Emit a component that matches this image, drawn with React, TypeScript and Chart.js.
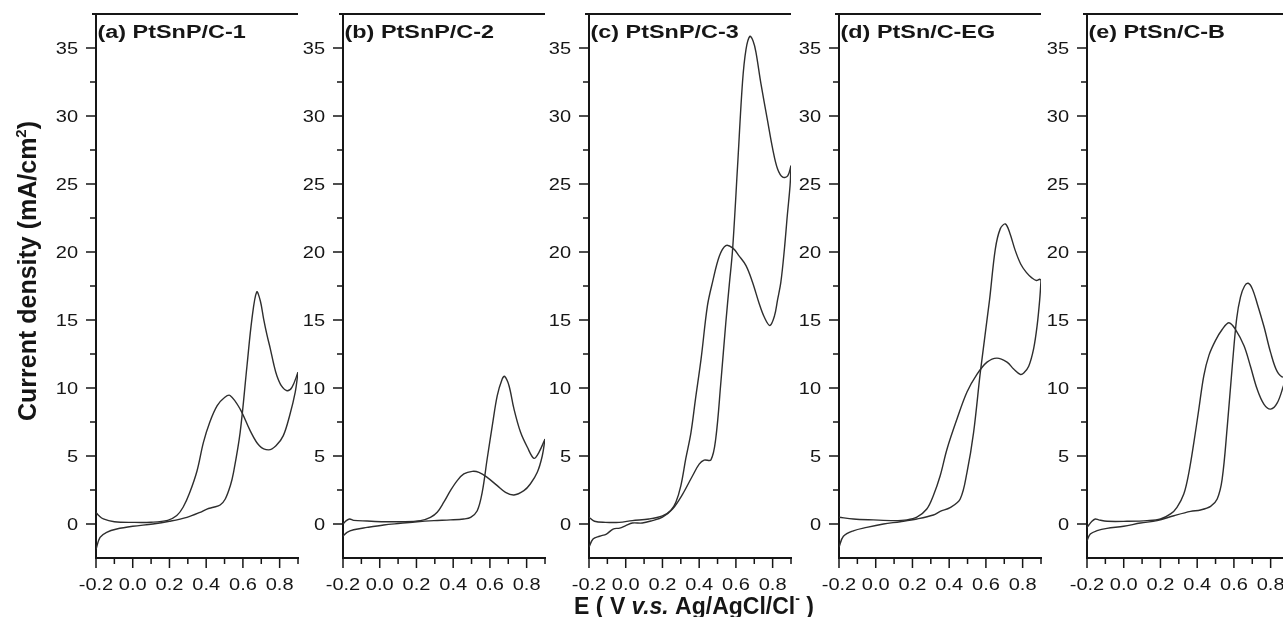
import React, { useEffect, useRef } from 'react';
import { Chart, registerables } from 'chart.js';

Chart.register(...registerables);

// ---------- axes ----------
const xRange = [-0.2, 0.9];
const yRange = [-2.5, 37.5];
const xTickValues = [-0.2, -0.1, 0.0, 0.1, 0.2, 0.3, 0.4, 0.5, 0.6, 0.7, 0.8, 0.9];
const xTickLabels = ['-0.2', '', '0.0', '', '0.2', '', '0.4', '', '0.6', '', '0.8', ''];
const yTickValues = [0, 2.5, 5, 7.5, 10, 12.5, 15, 17.5, 20, 22.5, 25, 27.5, 30, 32.5, 35];
const yTickLabels = ['0', '', '5', '', '10', '', '15', '', '20', '', '25', '', '30', '', '35'];

const panelTitles = ['(a) PtSnP/C-1', '(b) PtSnP/C-2', '(c) PtSnP/C-3', '(d) PtSn/C-EG', '(e) PtSn/C-B'];

// ---------- data: potential E (V) and current density I (mA/cm2) ----------
// (a) PtSnP/C-1
const aForwardE = [-0.2, -0.178, -0.142, -0.087, 0.0, 0.11, 0.2, 0.295, 0.367, 0.404, 0.44, 0.476, 0.504, 0.531, 0.549, 0.585, 0.622, 0.649, 0.675, 0.695, 0.713, 0.731, 0.749, 0.767, 0.785, 0.81, 0.84, 0.867, 0.9];
const aForwardI = [-1.85, -0.98, -0.61, -0.37, -0.17, 0.0, 0.2, 0.49, 0.86, 1.1, 1.23, 1.4, 1.84, 2.8, 3.8, 6.74, 11.6, 15.07, 17.06, 16.4, 15.07, 13.9, 12.9, 11.8, 10.9, 10.15, 9.8, 10.05, 11.15];
const aReverseE = [0.9, 0.885, 0.855, 0.82, 0.78, 0.74, 0.69, 0.64, 0.585, 0.53, 0.5, 0.46, 0.42, 0.385, 0.35, 0.31, 0.275, 0.24, 0.19, 0.1, 0.0, -0.1, -0.16, -0.185, -0.2];
const aReverseI = [11.15, 9.7, 8.0, 6.5, 5.75, 5.45, 5.75, 6.85, 8.45, 9.45, 9.3, 8.7, 7.5, 6.0, 3.9, 2.3, 1.25, 0.62, 0.27, 0.13, 0.12, 0.17, 0.37, 0.62, 0.85];

// (b) PtSnP/C-2
const bForwardE = [-0.2, -0.178, -0.142, -0.069, 0.022, 0.113, 0.204, 0.295, 0.385, 0.458, 0.495, 0.531, 0.558, 0.585, 0.613, 0.64, 0.667, 0.68, 0.704, 0.731, 0.767, 0.804, 0.84, 0.867, 0.9];
const bForwardI = [-0.9, -0.61, -0.42, -0.25, -0.07, 0.05, 0.17, 0.25, 0.3, 0.37, 0.49, 0.98, 2.33, 4.78, 7.23, 9.44, 10.66, 10.86, 10.17, 8.46, 6.74, 5.64, 4.83, 5.27, 6.25];
const bReverseE = [0.9, 0.885, 0.858, 0.82, 0.785, 0.731, 0.685, 0.64, 0.585, 0.54, 0.504, 0.458, 0.422, 0.385, 0.349, 0.313, 0.276, 0.222, 0.113, 0.022, -0.069, -0.142, -0.164, -0.182, -0.2];
const bReverseI = [6.25, 5.0, 3.8, 2.94, 2.45, 2.13, 2.33, 2.82, 3.43, 3.8, 3.87, 3.68, 3.19, 2.45, 1.6, 0.86, 0.49, 0.25, 0.17, 0.17, 0.22, 0.27, 0.37, 0.25, 0.0];

// (c) PtSnP/C-3
const cForwardE = [-0.2, -0.178, -0.142, -0.105, -0.069, -0.033, 0.0, 0.036, 0.09, 0.145, 0.2, 0.255, 0.31, 0.364, 0.4, 0.427, 0.464, 0.49, 0.518, 0.545, 0.564, 0.582, 0.609, 0.636, 0.655, 0.676, 0.694, 0.709, 0.736, 0.773, 0.8, 0.827, 0.855, 0.882, 0.9];
const cForwardI = [-1.7, -1.1, -0.9, -0.74, -0.37, -0.3, -0.12, 0.07, 0.07, 0.25, 0.5, 1.1, 2.2, 3.55, 4.4, 4.7, 4.72, 6.25, 10.4, 14.8, 17.6, 20.2, 26.3, 32.5, 34.9, 35.86, 35.5, 34.7, 32.4, 29.6, 27.6, 26.1, 25.5, 25.6, 26.35];
const cReverseE = [0.9, 0.895, 0.88, 0.864, 0.845, 0.827, 0.81, 0.785, 0.755, 0.727, 0.69, 0.655, 0.618, 0.582, 0.545, 0.51, 0.473, 0.445, 0.41, 0.38, 0.355, 0.327, 0.3, 0.273, 0.245, 0.2, 0.127, 0.036, -0.036, -0.11, -0.17, -0.2];
const cReverseI = [26.35, 24.9, 22.7, 20.2, 17.8, 16.5, 15.3, 14.6, 15.2, 16.2, 17.8, 19.0, 19.7, 20.3, 20.47, 19.7, 17.8, 16.05, 12.1, 9.2, 6.7, 4.8, 2.8, 1.6, 1.0, 0.6, 0.37, 0.25, 0.12, 0.12, 0.2, 0.5];

// (d) PtSn/C-EG
const dForwardE = [-0.2, -0.176, -0.122, -0.049, 0.042, 0.133, 0.224, 0.314, 0.351, 0.405, 0.46, 0.497, 0.533, 0.57, 0.62, 0.651, 0.678, 0.706, 0.73, 0.76, 0.79, 0.82, 0.85, 0.875, 0.893, 0.9];
const dForwardI = [-1.7, -0.9, -0.5, -0.25, 0.0, 0.17, 0.37, 0.66, 0.93, 1.2, 1.84, 3.8, 6.74, 11.2, 16.5, 20.2, 21.7, 22.06, 21.4, 20.1, 19.1, 18.5, 18.1, 17.9, 18.0, 17.9];
const dReverseE = [0.9, 0.893, 0.879, 0.86, 0.833, 0.806, 0.787, 0.751, 0.715, 0.66, 0.606, 0.551, 0.497, 0.442, 0.388, 0.351, 0.314, 0.278, 0.224, 0.17, 0.1, -0.013, -0.122, -0.2];
const dReverseI = [17.9, 16.5, 14.6, 12.9, 11.6, 11.1, 11.0, 11.4, 11.9, 12.2, 11.9, 11.0, 9.7, 7.7, 5.5, 3.55, 2.1, 1.1, 0.5, 0.3, 0.25, 0.3, 0.37, 0.5];

// (e) PtSn/C-B
const eForwardE = [-0.2, -0.182, -0.145, -0.091, 0.0, 0.091, 0.182, 0.273, 0.364, 0.418, 0.473, 0.509, 0.536, 0.564, 0.591, 0.615, 0.636, 0.658, 0.678, 0.7, 0.727, 0.764, 0.8, 0.836, 0.871, 0.9];
const eForwardI = [-1.23, -0.74, -0.49, -0.32, -0.17, 0.07, 0.25, 0.61, 0.93, 1.03, 1.3, 1.84, 3.3, 7.2, 11.6, 15.1, 16.7, 17.5, 17.7, 17.3, 16.2, 14.5, 12.6, 11.2, 10.8, 11.3];
const eReverseE = [0.9, 0.871, 0.836, 0.8, 0.764, 0.727, 0.69, 0.655, 0.609, 0.573, 0.536, 0.5, 0.464, 0.436, 0.409, 0.382, 0.355, 0.327, 0.29, 0.255, 0.2, 0.127, 0.018, -0.09, -0.136, -0.155, -0.173, -0.2];
const eReverseI = [11.3, 10.2, 8.9, 8.45, 8.8, 9.9, 11.6, 13.1, 14.3, 14.8, 14.3, 13.5, 12.4, 10.9, 8.45, 6.0, 3.8, 2.2, 1.23, 0.74, 0.37, 0.25, 0.2, 0.2, 0.3, 0.37, 0.2, -0.25];

const panelSeries = [
  { fE: aForwardE, fI: aForwardI, rE: aReverseE, rI: aReverseI },
  { fE: bForwardE, fI: bForwardI, rE: bReverseE, rI: bReverseI },
  { fE: cForwardE, fI: cForwardI, rE: cReverseE, rI: cReverseI },
  { fE: dForwardE, fI: dForwardI, rE: dReverseE, rI: dReverseI },
  { fE: eForwardE, fI: eForwardI, rE: eReverseE, rI: eReverseI },
];

// ---------- layout / style ----------
const axisLefts = [96, 343, 589, 839, 1087];
const PLOT_W = 202;
const Y_AXIS_W = 60;
const RIGHT_PAD = 40;
const FONT = '"Liberation Sans", Arial, Helvetica, sans-serif';
const INK = '#161616';
const LINE = '#2e2e2e';

type Part = { text: string; font: string; dy?: number };

function drawRich(ctx: CanvasRenderingContext2D, parts: Part[], cx: number, baseline: number) {
  let total = 0;
  for (const p of parts) {
    ctx.font = p.font;
    total += ctx.measureText(p.text).width;
  }
  let x = cx - total / 2;
  ctx.textAlign = 'left';
  ctx.textBaseline = 'alphabetic';
  for (const p of parts) {
    ctx.font = p.font;
    ctx.fillText(p.text, x, baseline + (p.dy || 0));
    x += ctx.measureText(p.text).width;
  }
}

const decorPlugin = {
  id: 'panelDecor',
  afterDraw(chart: any, _args: any, opts: any) {
    const ctx: CanvasRenderingContext2D = chart.ctx;
    const ca = chart.chartArea;
    const xs = chart.scales.x;
    const ys = chart.scales.y;
    ctx.save();
    // top frame line
    ctx.strokeStyle = INK;
    ctx.lineWidth = 2;
    ctx.beginPath();
    ctx.moveTo(ca.left - 4, ca.top);
    ctx.lineTo(ca.right, ca.top);
    ctx.stroke();
    // tick marks (major / minor)
    ctx.lineWidth = 1.5;
    ctx.beginPath();
    xTickValues.forEach((v, i) => {
      const px = xs.getPixelForValue(v);
      const len = xTickLabels[i] ? 10 : 6;
      ctx.moveTo(px, ca.bottom);
      ctx.lineTo(px, ca.bottom + len);
    });
    yTickValues.forEach((v, i) => {
      const py = ys.getPixelForValue(v);
      const len = yTickLabels[i] ? 10 : 6;
      ctx.moveTo(ca.left - len, py);
      ctx.lineTo(ca.left, py);
    });
    ctx.stroke();
    // tick labels
    ctx.fillStyle = INK;
    ctx.font = `16px ${FONT}`;
    ctx.textBaseline = 'alphabetic';
    ctx.textAlign = 'center';
    xTickValues.forEach((v, i) => {
      if (!xTickLabels[i]) return;
      ctx.save();
      ctx.translate(xs.getPixelForValue(v), ca.bottom + 32);
      ctx.scale(1.25, 1);
      ctx.fillText(xTickLabels[i], 0, 0);
      ctx.restore();
    });
    ctx.textAlign = 'right';
    yTickValues.forEach((v, i) => {
      if (!yTickLabels[i]) return;
      ctx.save();
      ctx.translate(ca.left - 18, ys.getPixelForValue(v) + 5.8);
      ctx.scale(1.25, 1);
      ctx.fillText(yTickLabels[i], 0, 0);
      ctx.restore();
    });
    // panel title
    ctx.textAlign = 'left';
    ctx.font = `bold 18px ${FONT}`;
    ctx.save();
    ctx.translate(ca.left + 1.5, ca.top + 24);
    ctx.scale(1.3, 1);
    ctx.fillText(opts.title, 0, 0);
    ctx.restore();
    // y axis title
    if (opts.yTitle) {
      ctx.save();
      ctx.translate(ca.left - 60, (ca.top + ca.bottom) / 2 - 15);
      ctx.rotate(-Math.PI / 2);
      drawRich(ctx, [
        { text: 'Current density (mA/cm', font: `bold 25px ${FONT}` },
        { text: '2', font: `bold 15px ${FONT}`, dy: -10 },
        { text: ')', font: `bold 25px ${FONT}` },
      ], 0, 0);
      ctx.restore();
    }
    // x axis title
    if (opts.xTitle) {
      drawRich(ctx, [
        { text: 'E ( V ', font: `bold 23px ${FONT}` },
        { text: 'v.s.', font: `italic bold 23px ${FONT}` },
        { text: ' Ag/AgCl/Cl', font: `bold 23px ${FONT}` },
        { text: '-', font: `bold 14px ${FONT}`, dy: -11 },
        { text: ' )', font: `bold 23px ${FONT}` },
      ], (ca.left + ca.right) / 2 + 4, 614);
    }
    ctx.restore();
  },
};

function toPoints(es: number[], is: number[]) {
  return es.map((e, k) => ({ x: e, y: is[k] }));
}

function Panel({ index }: { index: number }) {
  const ref = useRef<HTMLCanvasElement>(null);
  const padLeft = index === 0 ? 36 : 0;
  useEffect(() => {
    const s = panelSeries[index];
    const lineStyle = {
      borderColor: LINE,
      borderWidth: 1.4,
      pointRadius: 0,
      tension: 0.35,
      fill: false,
    };
    const chart = new Chart(ref.current as HTMLCanvasElement, {
      type: 'line',
      data: {
        datasets: [
          { label: 'forward', data: toPoints(s.fE, s.fI), ...lineStyle },
          { label: 'reverse', data: toPoints(s.rE, s.rI), ...lineStyle },
        ],
      },
      plugins: [decorPlugin],
      options: {
        animation: false,
        responsive: true,
        maintainAspectRatio: false,
        events: [],
        layout: { padding: { left: padLeft, top: 14, right: RIGHT_PAD, bottom: 0 } },
        plugins: {
          legend: { display: false },
          tooltip: { enabled: false },
          panelDecor: { title: panelTitles[index], yTitle: index === 0, xTitle: index === 2 },
        } as any,
        scales: {
          x: {
            type: 'linear',
            min: xRange[0],
            max: xRange[1],
            afterBuildTicks: (sc: any) => { sc.ticks = xTickValues.map((v) => ({ value: v })); },
            afterFit: (sc: any) => { sc.height = 59; },
            grid: { display: true, drawOnChartArea: false, drawTicks: false, color: 'rgba(0,0,0,0)' },
            border: { display: true, color: INK, width: 2 },
            ticks: { display: false },
          },
          y: {
            type: 'linear',
            min: yRange[0],
            max: yRange[1],
            afterBuildTicks: (sc: any) => { sc.ticks = yTickValues.map((v) => ({ value: v })); },
            afterFit: (sc: any) => { sc.width = Y_AXIS_W; },
            grid: { display: true, drawOnChartArea: false, drawTicks: false, color: 'rgba(0,0,0,0)' },
            border: { display: true, color: INK, width: 2 },
            ticks: { display: false },
          },
        },
      } as any,
    });
    return () => chart.destroy();
  }, [index]);
  const left = axisLefts[index] - Y_AXIS_W - padLeft;
  const width = padLeft + Y_AXIS_W + PLOT_W + RIGHT_PAD;
  return (
    <div style={{ position: 'absolute', left, top: 0, width, height: 617 }}>
      <canvas ref={ref} style={{ display: 'block' }} />
    </div>
  );
}

export default function App() {
  return (
    <div
      style={{
        position: 'fixed',
        left: 0,
        top: 0,
        width: 1283,
        height: 617,
        overflow: 'hidden',
        background: '#ffffff',
      }}
    >
      {panelTitles.map((_, i) => (
        <Panel key={i} index={i} />
      ))}
    </div>
  );
}
